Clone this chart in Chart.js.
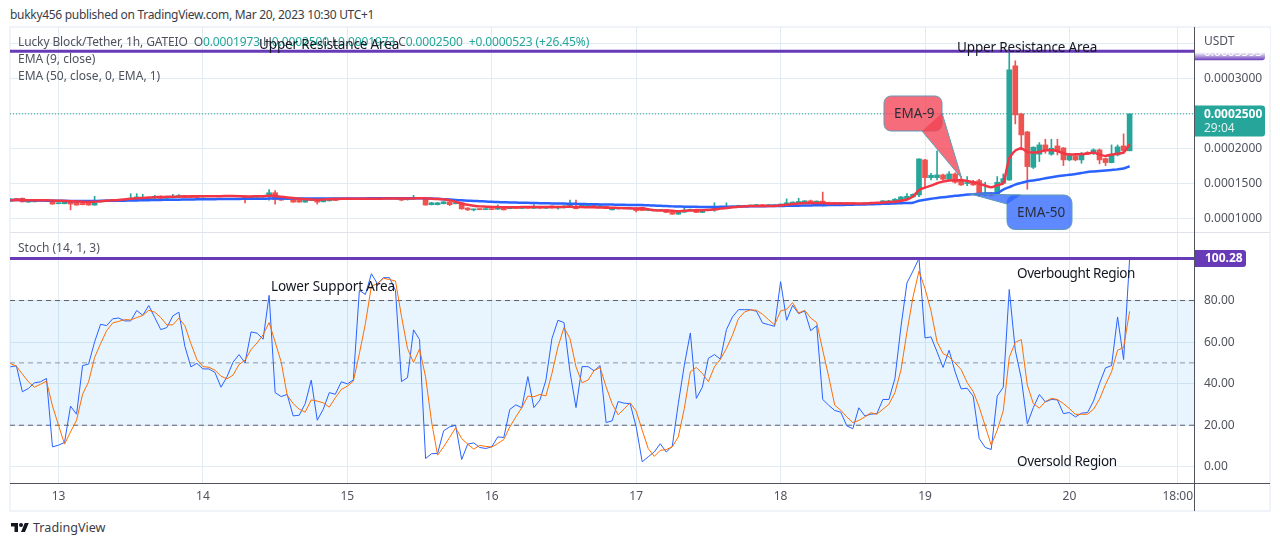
<!DOCTYPE html>
<html><head><meta charset="utf-8">
<script src="https://cdn.jsdelivr.net/npm/chart.js@4"></script>
<style>
html,body{margin:0;padding:0;background:#fff;width:1280px;height:546px;overflow:hidden}
body{font-family:"Noto Sans",sans-serif;position:relative}
canvas{position:absolute;display:block}
.t{position:absolute;white-space:pre;font-size:12px;line-height:16px;color:#50535e}
.n{color:#131722;font-size:13.5px;line-height:18px}
.g{color:#26a69a}
.l{position:absolute}
</style></head><body>
<div class="l" style="left:9px;top:26px;width:1262px;height:486px;border:2px solid #f0f3fa;box-sizing:border-box"></div>
<canvas id="price" style="left:10px;top:27px" width="1260" height="206"></canvas>
<canvas id="stoch" style="left:10px;top:233px" width="1260" height="278"></canvas>
<div class="l" style="left:10px;top:232px;width:1260px;height:1px;background:#e0e3eb"></div>
<div class="l" style="left:10px;top:483px;width:1260px;height:1px;background:#50535e"></div>
<div class="l" style="left:1194px;top:27px;width:1px;height:484px;background:#50535e"></div>
<div class="t" style="left:10px;top:7px;color:#3a3d47;letter-spacing:-.3px">bukky456 published on TradingView.com, Mar 20, 2023 10:30 UTC+1</div>
<div class="t" style="left:18px;top:34px;letter-spacing:-.12px">Lucky Block/Tether, 1h, GATEIO  O<span class="g">0.0001973</span> H<span class="g">0.0002500</span> L<span class="g">0.0001973</span> C<span class="g">0.0002500</span>  <span class="g">+0.0000523 (+26.45%)</span></div>
<div class="t" style="left:18px;top:51px">EMA (9, close)</div>
<div class="t" style="left:18px;top:68px">EMA (50, close, 0, EMA, 1)</div>
<div class="t" style="left:18px;top:240px">Stoch (14, 1, 3)</div>
<div class="t" style="left:1204px;top:33px">USDT</div>
<div class="t n" style="left:259px;top:35px;letter-spacing:-.14px">Upper Resistance Area</div>
<div class="t n" style="left:957px;top:38px;letter-spacing:-.14px">Upper Resistance Area</div>
<div class="t n" style="left:271px;top:277px;letter-spacing:-.1px">Lower Support Area</div>
<div class="t n" style="left:1017px;top:264px;letter-spacing:-.4px">Overbought Region</div>
<div class="t n" style="left:1017px;top:452px;letter-spacing:-.33px">Oversold Region</div>
<div class="t" style="left:894px;top:104px;font-size:13.5px;line-height:18px;color:#2a2e39">EMA-9</div>
<div class="t" style="left:1017px;top:203px;font-size:13.5px;line-height:18px;color:#2a2e39">EMA-50</div>
<svg class="l" style="left:10px;top:521px" width="20" height="14" viewBox="0 0 36 28"><path fill="#131722" d="M14 22H7V11H0V4h14v18zM28 22h-8l7.5-18h8L28 22z"/><circle fill="#131722" cx="20" cy="8" r="4"/></svg>
<div class="t" style="left:33px;top:520px;font-size:12.6px;color:#3a3d47">TradingView</div>
<script>
// Prices are in units of 0.0001 USDT, one value per hour.
const priceUnit = 1e-4;
const firstHour = -8; // hours relative to 13 Mar 00:00
const opens = [
1.255,1.292,1.296,1.241,1.245,1.259,1.270,1.259,1.218,1.218,
1.245,1.241,1.222,1.231,1.199,1.245,1.250,1.259,1.269,1.269,
1.269,1.269,1.278,1.287,1.296,1.324,1.296,1.301,1.310,1.333,
1.329,1.324,1.315,1.330,1.320,1.328,1.320,1.330,1.322,1.329,
1.292,1.310,1.315,1.329,1.375,1.306,1.278,1.287,1.282,1.241,
1.264,1.287,1.245,1.259,1.282,1.280,1.290,1.282,1.290,1.283,
1.291,1.284,1.288,1.295,1.288,1.296,1.275,1.285,1.290,1.306,
1.204,1.204,1.218,1.245,1.218,1.231,1.157,1.130,1.144,1.134,
1.144,1.139,1.167,1.148,1.167,1.150,1.165,1.152,1.166,1.153,
1.185,1.157,1.160,1.176,1.176,1.185,1.180,1.190,1.175,1.181,
1.130,1.144,1.148,1.144,1.157,1.167,1.120,1.120,1.120,1.134,
1.097,1.069,1.097,1.120,1.139,1.093,1.120,1.130,1.150,1.148,
1.167,1.176,1.194,1.185,1.185,1.204,1.190,1.190,1.194,1.204,
1.213,1.222,1.236,1.259,1.241,1.255,1.236,1.232,1.220,1.230,
1.231,1.204,1.215,1.228,1.218,1.222,1.236,1.241,1.269,1.287,
1.315,1.343,1.843,1.590,1.590,1.629,1.567,1.643,1.567,1.505,
1.533,1.548,1.343,1.371,1.357,1.510,1.557,3.186,2.500,2.243,
1.738,1.924,2.057,1.924,2.043,2.014,1.843,1.900,1.843,1.948,
1.938,1.986,1.862,1.805,1.914,2.043,1.973];
const closes = [
1.284,1.264,1.245,1.259,1.255,1.269,1.260,1.213,1.231,1.245,
1.213,1.199,1.204,1.199,1.231,1.259,1.269,1.269,1.259,1.278,
1.296,1.315,1.287,1.306,1.324,1.292,1.306,1.315,1.333,1.306,
1.306,1.306,1.324,1.320,1.328,1.320,1.330,1.322,1.330,1.278,
1.324,1.320,1.324,1.375,1.278,1.269,1.292,1.241,1.241,1.269,
1.278,1.241,1.278,1.278,1.264,1.288,1.282,1.290,1.283,1.291,
1.284,1.292,1.295,1.288,1.296,1.269,1.290,1.295,1.298,1.199,
1.231,1.231,1.245,1.204,1.231,1.144,1.130,1.139,1.134,1.144,
1.134,1.157,1.130,1.167,1.150,1.165,1.152,1.166,1.153,1.168,
1.157,1.180,1.185,1.194,1.148,1.194,1.190,1.182,1.185,1.148,
1.157,1.157,1.167,1.157,1.120,1.120,1.139,1.134,1.134,1.093,
1.069,1.111,1.125,1.139,1.093,1.111,1.139,1.171,1.175,1.176,
1.185,1.194,1.176,1.194,1.204,1.190,1.200,1.200,1.213,1.231,
1.241,1.250,1.259,1.241,1.254,1.208,1.218,1.220,1.230,1.218,
1.204,1.220,1.228,1.218,1.230,1.259,1.259,1.282,1.315,1.324,
1.352,1.857,1.590,1.624,1.629,1.567,1.643,1.524,1.486,1.519,
1.486,1.343,1.376,1.338,1.524,1.576,3.129,2.486,2.200,1.748,
2.024,2.057,1.971,2.010,1.971,1.843,1.905,1.843,1.938,1.929,
1.986,1.843,1.805,1.914,2.029,1.976,2.500];
const highs = [
1.290,1.295,1.300,1.262,1.258,1.272,1.272,1.262,1.234,1.250,
1.248,1.245,1.225,1.235,1.324,1.262,1.272,1.272,1.272,1.285,
1.361,1.361,1.352,1.310,1.338,1.330,1.310,1.352,1.347,1.338,
1.332,1.328,1.330,1.334,1.332,1.332,1.336,1.334,1.334,1.334,
1.330,1.330,1.330,1.421,1.407,1.310,1.296,1.290,1.285,1.272,
1.282,1.290,1.282,1.282,1.285,1.292,1.294,1.294,1.293,1.295,
1.294,1.296,1.298,1.298,1.300,1.300,1.294,1.338,1.302,1.310,
1.240,1.236,1.250,1.250,1.240,1.235,1.160,1.142,1.146,1.146,
1.146,1.200,1.170,1.170,1.170,1.170,1.168,1.205,1.170,1.172,
1.188,1.184,1.190,1.269,1.269,1.198,1.200,1.200,1.190,1.184,
1.160,1.160,1.170,1.160,1.160,1.170,1.142,1.137,1.137,1.137,
1.100,1.114,1.167,1.142,1.142,1.114,1.142,1.231,1.180,1.231,
1.188,1.197,1.197,1.197,1.210,1.207,1.204,1.205,1.216,1.287,
1.244,1.296,1.262,1.270,1.258,1.384,1.240,1.235,1.233,1.233,
1.234,1.224,1.232,1.232,1.234,1.262,1.265,1.290,1.320,1.361,
1.358,1.857,1.850,1.652,1.971,1.640,1.676,1.660,1.605,1.605,
1.550,1.567,1.524,1.380,1.605,1.643,3.414,3.257,2.510,2.250,
2.030,2.090,2.138,2.138,2.138,2.020,1.938,1.910,1.950,1.960,
2.000,2.000,1.870,2.057,2.057,2.214,2.500];
const lows = [
1.250,1.260,1.240,1.238,1.243,1.257,1.258,1.210,1.216,1.215,
1.130,1.196,1.200,1.195,1.196,1.240,1.248,1.257,1.257,1.267,
1.267,1.267,1.276,1.285,1.294,1.290,1.294,1.300,1.308,1.304,
1.304,1.304,1.313,1.318,1.318,1.318,1.318,1.320,1.320,1.230,
1.290,1.308,1.313,1.269,1.213,1.266,1.276,1.238,1.238,1.238,
1.262,1.213,1.243,1.257,1.262,1.278,1.280,1.280,1.281,1.281,
1.282,1.282,1.286,1.286,1.286,1.260,1.270,1.283,1.288,1.196,
1.200,1.200,1.215,1.190,1.215,1.140,1.120,1.115,1.132,1.132,
1.132,1.137,1.128,1.146,1.148,1.148,1.150,1.150,1.150,1.150,
1.155,1.140,1.158,1.174,1.145,1.183,1.178,1.180,1.173,1.146,
1.128,1.142,1.146,1.142,1.100,1.118,1.118,1.118,1.118,1.090,
1.066,1.066,1.095,1.118,1.090,1.090,1.118,1.110,1.148,1.145,
1.165,1.174,1.174,1.183,1.183,1.188,1.188,1.188,1.192,1.202,
1.211,1.220,1.234,1.239,1.239,1.185,1.216,1.218,1.218,1.216,
1.200,1.202,1.213,1.216,1.216,1.220,1.234,1.239,1.267,1.285,
1.313,1.319,1.438,1.557,1.557,1.550,1.560,1.510,1.480,1.476,
1.480,1.319,1.330,1.330,1.350,1.500,1.550,2.357,1.986,1.424,
1.720,1.819,1.938,1.910,1.914,1.762,1.830,1.830,1.795,1.920,
1.920,1.786,1.762,1.800,1.900,1.938,1.973];
const ema9 = [
1.268,1.270,1.270,1.268,1.266,1.268,1.267,1.264,1.260,1.258,
1.254,1.250,1.246,1.243,1.245,1.252,1.260,1.266,1.272,1.278,
1.288,1.296,1.301,1.306,1.310,1.314,1.316,1.318,1.320,1.322,
1.323,1.324,1.325,1.325,1.324,1.326,1.327,1.328,1.326,1.322,
1.322,1.324,1.326,1.330,1.327,1.318,1.308,1.298,1.288,1.280,
1.277,1.275,1.278,1.282,1.285,1.288,1.290,1.290,1.290,1.290,
1.290,1.290,1.291,1.292,1.293,1.293,1.294,1.294,1.296,1.296,
1.288,1.286,1.282,1.269,1.245,1.222,1.204,1.190,1.180,1.176,
1.172,1.170,1.168,1.168,1.168,1.170,1.170,1.171,1.172,1.172,
1.172,1.172,1.172,1.174,1.172,1.170,1.168,1.166,1.165,1.164,
1.160,1.158,1.155,1.152,1.150,1.148,1.139,1.125,1.120,1.120,
1.116,1.111,1.116,1.120,1.120,1.125,1.130,1.134,1.148,1.157,
1.167,1.176,1.180,1.185,1.185,1.186,1.185,1.185,1.194,1.204,
1.213,1.222,1.227,1.227,1.227,1.227,1.222,1.222,1.222,1.222,
1.222,1.222,1.222,1.227,1.231,1.236,1.241,1.245,1.259,1.278,
1.319,1.414,1.448,1.476,1.510,1.533,1.548,1.552,1.552,1.543,
1.524,1.505,1.476,1.452,1.481,1.510,1.867,1.976,2.010,1.957,
1.948,1.957,1.981,1.981,1.971,1.938,1.919,1.924,1.924,1.933,
1.948,1.919,1.900,1.919,1.933,1.948,2.067];
const ema50 = [
1.270,1.270,1.270,1.268,1.266,1.264,1.262,1.261,1.260,1.259,
1.258,1.258,1.258,1.258,1.258,1.259,1.260,1.260,1.261,1.262,
1.263,1.265,1.267,1.269,1.270,1.272,1.274,1.275,1.276,1.278,
1.279,1.280,1.281,1.282,1.283,1.284,1.285,1.286,1.287,1.288,
1.288,1.289,1.290,1.291,1.292,1.292,1.292,1.292,1.292,1.292,
1.292,1.292,1.292,1.292,1.293,1.293,1.294,1.294,1.294,1.294,
1.295,1.295,1.295,1.295,1.296,1.296,1.296,1.296,1.296,1.295,
1.292,1.288,1.283,1.278,1.272,1.266,1.262,1.258,1.254,1.250,
1.245,1.242,1.239,1.236,1.234,1.232,1.230,1.228,1.226,1.224,
1.222,1.221,1.220,1.218,1.216,1.214,1.212,1.210,1.208,1.206,
1.205,1.204,1.202,1.200,1.199,1.198,1.195,1.192,1.188,1.184,
1.180,1.178,1.176,1.175,1.173,1.172,1.171,1.172,1.173,1.174,
1.175,1.176,1.178,1.180,1.181,1.182,1.184,1.185,1.186,1.188,
1.189,1.190,1.192,1.194,1.195,1.196,1.198,1.199,1.200,1.202,
1.204,1.206,1.208,1.210,1.213,1.216,1.219,1.222,1.225,1.228,
1.233,1.260,1.274,1.288,1.300,1.310,1.320,1.330,1.338,1.350,
1.354,1.358,1.361,1.364,1.367,1.420,1.455,1.490,1.515,1.540,
1.548,1.565,1.580,1.595,1.610,1.620,1.632,1.642,1.655,1.672,
1.678,1.685,1.692,1.700,1.708,1.720,1.752];
const stochK = [
48.1,48.6,36.1,37.7,40.4,40.9,42.5,9.6,10.4,11.7,
29.2,25.3,48.7,49.4,60.1,68.6,67.9,71.2,71.6,70.2,
70.2,75.2,72.9,77.6,71.8,66.0,67.0,72.6,74.4,58.0,
48.1,49.8,47.1,47.1,45.4,38.3,43.3,50.3,54.0,50.0,
64.9,64.3,61.4,82.5,35.7,33.8,34.8,24.5,24.8,30.4,
41.7,22.4,27.7,35.7,34.9,40.9,39.9,41.8,84.9,82.9,
92.9,88.1,91.0,91.0,84.9,41.0,42.9,65.9,61.2,4.0,
6.3,6.4,17.3,19.2,19.9,3.5,10.9,11.5,9.3,8.8,
9.6,14.4,14.1,27.6,29.8,28.4,43.4,28.5,32.1,41.7,
61.7,70.5,69.4,45.7,28.5,48.2,48.2,46.2,48.7,21.3,
22.1,31.4,30.6,30.4,19.2,2.4,4.8,7.1,11.1,7.1,
9.9,30.4,48.9,64.4,32.9,38.3,52.2,54.0,51.8,66.0,
72.1,75.6,75.6,75.6,74.8,69.2,68.4,67.6,89.1,70.5,
77.7,73.7,75.0,65.5,67.9,32.4,29.6,27.1,26.3,19.7,
18.3,28.4,24.5,25.3,25.6,32.4,32.4,42.5,67.3,88.5,
94.2,100.28,62.0,62.5,55.3,47.8,56.1,45.7,37.5,37.8,
34.0,13.6,9.3,8.3,34.0,38.3,85.3,56.1,42.5,20.7,
28.5,34.8,31.2,32.4,32.2,25.6,26.1,24.0,25.8,26.1,
31.6,40.1,47.6,48.7,72.1,51.6,100.28];
const stochD = [
49.7,48.4,44.6,40.9,38.3,39.7,41.2,29.3,20.0,10.9,
16.8,22.4,34.9,40.9,52.6,59.3,65.5,69.2,70.0,70.8,
70.7,71.8,72.8,75.3,74.4,71.8,68.3,68.3,71.5,67.9,
59.3,51.6,48.2,47.9,46.5,43.6,42.3,44.1,49.2,51.3,
56.4,59.6,63.5,69.4,60.1,50.5,34.5,30.4,27.7,26.3,
32.2,31.6,30.8,28.7,33.2,37.2,38.8,41.2,54.5,68.9,
87.0,88.1,90.7,90.1,89.4,72.4,56.9,50.2,56.7,43.3,
21.6,5.6,9.6,14.1,18.8,13.6,10.9,8.5,10.3,9.8,
9.5,11.2,13.1,19.2,24.0,28.5,34.0,33.7,34.8,34.1,
44.9,57.7,67.0,61.7,48.1,40.5,41.7,46.3,47.8,38.5,
30.4,25.0,27.9,30.8,26.8,17.6,8.8,5.0,7.9,8.3,
9.6,14.4,28.0,45.7,47.8,44.9,41.0,48.1,51.8,56.9,
63.3,71.3,74.5,75.5,75.3,73.4,70.8,68.3,75.0,75.8,
79.0,74.0,75.3,71.6,69.4,56.1,43.3,29.6,27.2,24.0,
21.3,22.3,24.0,26.0,25.3,27.7,30.1,35.7,46.5,64.9,
81.7,94.2,85.7,75.0,60.1,54.5,52.9,50.0,46.8,40.5,
36.2,28.8,19.6,10.4,17.6,26.9,52.6,59.9,61.2,39.3,
30.4,28.2,31.4,32.9,32.4,30.4,28.0,25.2,25.3,25.3,
27.7,32.5,39.6,45.7,56.1,57.4,74.8];

const resistanceLevel = 0.0003393;
const lastPrice = 0.00025;
const stochCeiling = 100.28;
const xRange = [-8.06, 188.7];
const priceRange = [0.00008, 0.000374];
const stochRange = [-7.8, 112.5];
const dayTickHours = [0,24,48,72,96,120,144,168,186];
const dayTickLabels = ['13','14','15','16','17','18','19','20','18:00'];
const priceTicks = [0.0001,0.00015,0.0002,0.00025,0.0003,0.00035];
const stochTicks = [0,20,40,60,80];
const stochLevels = [80,50,20];

const GREEN='#26a69a', RED='#ef5350', PURPLE='#673ab7', GRID='#e1ecf2', TXT='#50535e', FONT='"Noto Sans", sans-serif';
const hours = opens.map((_,i)=>firstHour+i);
const series = a => a.map((v,i)=>({x:hours[i], y:v*priceUnit}));
const span = v => [{x:xRange[0],y:v},{x:xRange[1],y:v}];
const isUp = i => closes[i]>=opens[i];
const candleColor = c => isUp(c.dataIndex)?GREEN:RED;
const noPad = s => { s.paddingTop=0; s.paddingBottom=0; s.paddingLeft=0; s.paddingRight=0; };

function xScale(showLabels,h){
  return {type:'linear',min:xRange[0],max:xRange[1],offset:false,
    afterBuildTicks:s=>{s.ticks=dayTickHours.map(v=>({value:v}));},
    afterFit:s=>{s.height=h; noPad(s);},
    grid:{color:GRID,lineWidth:1,drawTicks:false,offset:false},border:{display:false},
    ticks:{display:showLabels,autoSkip:false,maxRotation:0,padding:6,color:TXT,font:{family:FONT,size:12},
      callback:v=>{const i=dayTickHours.indexOf(v);return i<0?'':dayTickLabels[i];}}};
}
const yFit = s => { s.width = 76; noPad(s); };
function tag(ctx,x,y,w,h,color){
  ctx.fillStyle=color; ctx.beginPath(); ctx.roundRect(x,y,w,h,[0,3,3,0]); ctx.fill();
}
const pricePlugin = {id:'priceMarks',afterDraw(c){
  const ctx=c.ctx, y=c.scales.y, a=c.chartArea;
  ctx.save();
  const py=y.getPixelForValue(lastPrice);
  tag(ctx,a.right,py-8.5,71,31,GREEN);
  ctx.textBaseline='middle'; ctx.textAlign='left';
  ctx.fillStyle='#fff'; ctx.font='bold 12px '+FONT; ctx.fillText('0.0002500',a.right+10,py+0.5);
  ctx.fillStyle='rgba(255,255,255,.85)'; ctx.font='12px '+FONT; ctx.fillText('29:04',a.right+10,py+15);
  const ry=y.getPixelForValue(resistanceLevel);
  tag(ctx,a.right,ry-8,71,17,PURPLE);
  ctx.fillStyle='#fff'; ctx.font='12px '+FONT; ctx.fillText('0.0003393',a.right+10,ry+1);
  const g=ctx.createLinearGradient(0,ry-9,0,ry+9);
  g.addColorStop(0,'#fff'); g.addColorStop(.55,'#fff'); g.addColorStop(1,'rgba(255,255,255,0)');
  ctx.fillStyle=g; ctx.fillRect(a.right+1,ry-22,76,31);
  bubble(ctx,c.scales.x,y,{x0:874,y0:69,w:58,h:35,r:7,fill:'rgba(244,67,84,.78)',tip:[150.1,0.000158],a:[58,17],b:[38,35]});
  bubble(ctx,c.scales.x,y,{x0:997,y0:168,w:65,h:34.5,r:8,fill:'rgba(41,98,255,.75)',tip:[151.4,0.000136],a:[0,9],b:[14,0]});
  ctx.restore();
}};
function bubble(ctx,xs,ys,b){
  const tipX=xs.getPixelForValue(b.tip[0]), tipY=ys.getPixelForValue(b.tip[1]);
  ctx.beginPath(); ctx.roundRect(b.x0,b.y0,b.w,b.h,b.r);
  ctx.fillStyle=b.fill; ctx.strokeStyle='#5f9db3'; ctx.lineWidth=1; ctx.fill(); ctx.stroke();
  ctx.beginPath(); ctx.moveTo(b.x0+b.a[0],b.y0+b.a[1]); ctx.lineTo(tipX,tipY); ctx.lineTo(b.x0+b.b[0],b.y0+b.b[1]); ctx.closePath();
  ctx.fillStyle=b.fill; ctx.fill();
  ctx.beginPath(); ctx.moveTo(b.x0+b.a[0],b.y0+b.a[1]); ctx.lineTo(tipX,tipY); ctx.lineTo(b.x0+b.b[0],b.y0+b.b[1]); ctx.stroke();
}
const stochPlugin = {id:'stochMarks',afterDraw(c){
  const ctx=c.ctx, y=c.scales.y, a=c.chartArea, py=y.getPixelForValue(stochCeiling);
  ctx.save();
  tag(ctx,a.right,py-8.5,52,17,PURPLE);
  ctx.fillStyle='#fff'; ctx.font='bold 12px '+FONT; ctx.textBaseline='middle'; ctx.textAlign='left';
  ctx.fillText('100.28',a.right+11,py+0.5);
  ctx.restore();
}};
const common = {responsive:false,animation:false,devicePixelRatio:1,events:[],
  plugins:{legend:{display:false},tooltip:{enabled:false}}};

new Chart(document.getElementById('price'),{
  type:'line',
  plugins:[pricePlugin],
  data:{datasets:[
    {type:'line',label:'Resistance',data:span(resistanceLevel),borderColor:PURPLE,borderWidth:3,pointRadius:0,order:1},
    {type:'line',label:'EMA 9',data:series(ema9),borderColor:'#f23645',borderWidth:2.5,pointRadius:0,tension:.2,order:2},
    {type:'line',label:'EMA 50',data:series(ema50),borderColor:'#2962ff',borderWidth:2.5,pointRadius:0,tension:.2,order:3},
    {type:'bar',label:'Body',grouped:false,data:hours.map((h,i)=>({x:h,y:[opens[i]*priceUnit,closes[i]*priceUnit]})),
      backgroundColor:candleColor,barThickness:5,minBarLength:1,borderSkipped:false,borderWidth:0,order:4},
    {type:'bar',label:'Wick',grouped:false,data:hours.map((h,i)=>({x:h,y:[lows[i]*priceUnit,highs[i]*priceUnit]})),
      backgroundColor:candleColor,barThickness:1,borderSkipped:false,borderWidth:0,order:5},
    {type:'line',label:'Last',data:span(lastPrice),borderColor:GREEN,borderWidth:1,borderDash:[1,2],pointRadius:0,order:6}
  ]},
  options:{...common,layout:{padding:0},scales:{
    x:xScale(false,0),
    y:{type:'linear',position:'right',min:priceRange[0],max:priceRange[1],afterFit:yFit,
       afterBuildTicks:s=>{s.ticks=priceTicks.map(v=>({value:v}));},
       grid:{color:GRID,drawTicks:false},border:{display:false},
       ticks:{padding:10,color:TXT,font:{family:FONT,size:12},callback:v=>v.toFixed(7)}}
  }}
});

new Chart(document.getElementById('stoch'),{
  type:'line',
  plugins:[stochPlugin],
  data:{datasets:[
    {type:'line',label:'Ceiling',data:span(stochCeiling),borderColor:PURPLE,borderWidth:3,pointRadius:0,order:1},
    {type:'line',label:'%D',data:stochD.map((v,i)=>({x:hours[i],y:v})),borderColor:'#ff6d00',borderWidth:1,pointRadius:0,order:2},
    {type:'line',label:'%K',data:stochK.map((v,i)=>({x:hours[i],y:v})),borderColor:'#2962ff',borderWidth:1,pointRadius:0,order:3},
    {type:'line',label:'Upper',data:span(stochLevels[0]),borderColor:'#5d606b',borderWidth:1,borderDash:[5,4],pointRadius:0,order:4,
      fill:{target:'+2',above:'rgba(33,150,243,.1)',below:'rgba(33,150,243,.1)'}},
    {type:'line',label:'Mid',data:span(stochLevels[1]),borderColor:'#9598a1',borderWidth:1,borderDash:[5,4],pointRadius:0,order:4},
    {type:'line',label:'Lower',data:span(stochLevels[2]),borderColor:'#5d606b',borderWidth:1,borderDash:[5,4],pointRadius:0,order:4}
  ]},
  options:{...common,layout:{padding:0},plugins:{...common.plugins,filler:{propagate:false}},scales:{
    x:xScale(true,28),
    y:{type:'linear',position:'right',min:stochRange[0],max:stochRange[1],afterFit:yFit,
       afterBuildTicks:s=>{s.ticks=stochTicks.map(v=>({value:v}));},
       grid:{color:GRID,drawTicks:false},border:{display:false},
       ticks:{padding:10,color:TXT,font:{family:FONT,size:12},callback:v=>v.toFixed(2)}}
  }}
});
</script>
</body></html>
